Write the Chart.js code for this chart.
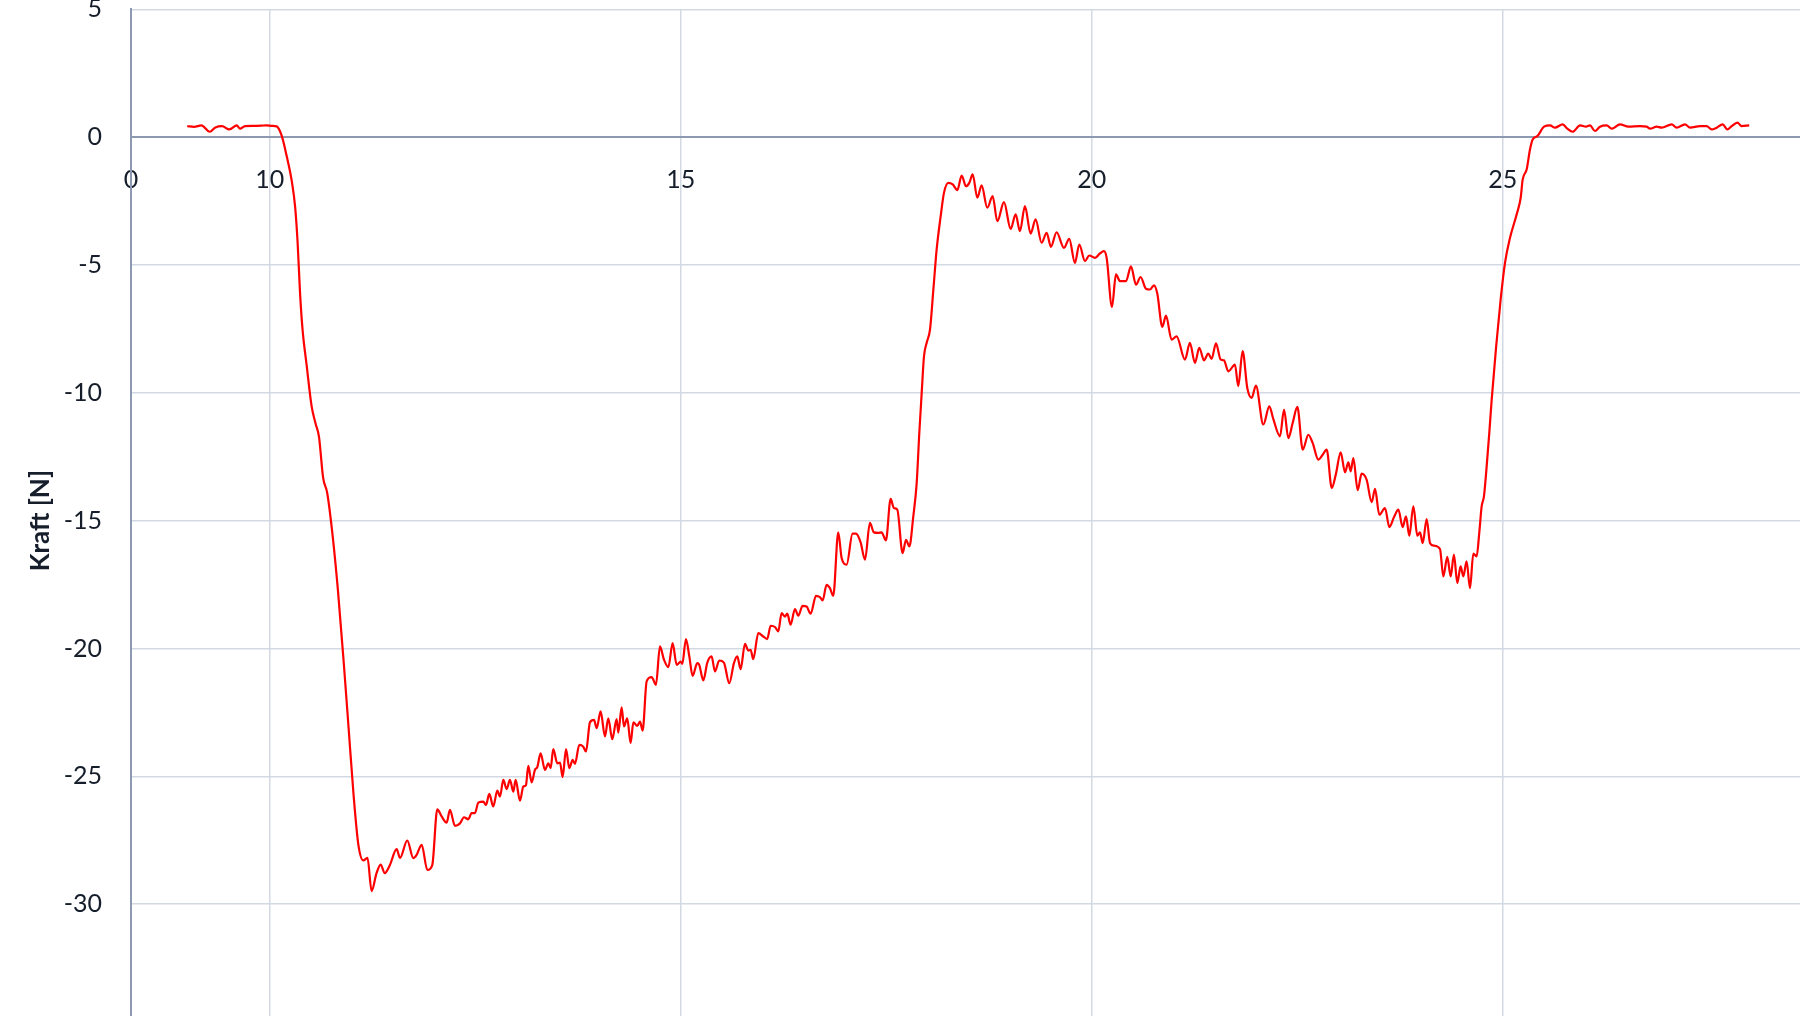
<!DOCTYPE html>
<html>
<head>
<meta charset="utf-8">
<script src="https://cdn.jsdelivr.net/npm/chart.js@4/dist/chart.umd.min.js"></script>
<style>
    html, body { margin: 0; padding: 0; background: #fff; overflow: hidden; }
    #wrap { position: absolute; left: 0; top: 0; width: 1920px; height: 1040px; }
</style>
</head>
<body>
<div id="wrap"><canvas id="kraft-chart"></canvas></div>
<script>
// Kraftverlauf - Messkurve (Excel-Look)

// x values of the measurement
const zeit = [
    8.997, 9.08, 9.17, 9.27, 9.34, 9.42, 9.51, 9.60, 9.64, 9.70, 9.80, 9.90, 9.96, 10.03, 10.085,
    10.146, 10.207, 10.27, 10.31, 10.34, 10.37, 10.40, 10.45, 10.51, 10.56, 10.60, 10.65, 10.70, 10.77, 10.83,
    10.90, 10.96, 11.02, 11.08, 11.14, 11.19, 11.24, 11.30, 11.35, 11.40, 11.46,
    11.545, 11.585, 11.674, 11.747, 11.788, 11.849, 11.918, 11.978, 12.039, 12.092, 12.153, 12.193, 12.254,
    12.315, 12.364, 12.416, 12.457, 12.497, 12.538, 12.599, 12.631, 12.672, 12.720, 12.769, 12.802, 12.842,
    12.883, 12.923, 12.964, 12.992, 13.045, 13.085, 13.118, 13.146, 13.187, 13.227, 13.256, 13.296, 13.349,
    13.390, 13.418, 13.450, 13.499, 13.532, 13.564, 13.605, 13.645, 13.686, 13.714, 13.767, 13.815, 13.848,
    13.896, 13.945, 13.978, 14.026, 14.079, 14.119, 14.168, 14.221, 14.241, 14.282, 14.310, 14.350, 14.391,
    14.424, 14.472, 14.505, 14.537, 14.586, 14.647, 14.699, 14.748, 14.797, 14.850, 14.902, 14.951, 15.000,
    15.02, 15.064, 15.105, 15.145, 15.202, 15.226, 15.275, 15.324, 15.376, 15.417, 15.469, 15.526, 15.591,
    15.648, 15.689, 15.729, 15.782, 15.822, 15.851, 15.883, 15.944, 16.005, 16.053, 16.094, 16.147, 16.187,
    16.228, 16.268, 16.297, 16.337, 16.390, 16.431, 16.483, 16.532, 16.581, 16.646, 16.694, 16.727, 16.775,
    16.816, 16.856, 16.917, 16.958, 17.019, 17.091, 17.132, 17.189, 17.242, 17.302, 17.351, 17.404, 17.444,
    17.497, 17.554, 17.594, 17.635,
    17.700, 17.741, 17.782, 17.830, 17.871, 17.903, 17.932, 17.960, 17.992, 18.033, 18.074, 18.114, 18.163,
    18.203, 18.256, 18.309, 18.366, 18.418, 18.471, 18.511, 18.552, 18.609, 18.661, 18.730, 18.795, 18.852,
    18.933, 19.014, 19.075, 19.127, 19.188, 19.257, 19.318, 19.391, 19.452, 19.504, 19.573, 19.663, 19.727,
    19.796, 19.849, 19.918, 19.971, 20.040, 20.100, 20.149, 20.182, 20.247, 20.295, 20.344, 20.417, 20.478,
    20.539, 20.595, 20.660, 20.709, 20.758, 20.798, 20.859, 20.904, 20.972, 21.033, 21.135, 21.195, 21.256,
    21.309, 21.366, 21.418, 21.459, 21.512, 21.569, 21.609, 21.662, 21.743, 21.783, 21.836, 21.893, 21.946,
    21.998, 22.088, 22.161, 22.209,
    22.291, 22.340, 22.392, 22.445, 22.502, 22.567, 22.636, 22.688, 22.757, 22.810, 22.859, 22.920, 22.972,
    23.029, 23.082, 23.122, 23.151, 23.183, 23.236, 23.284, 23.345, 23.406, 23.447, 23.499, 23.568, 23.621,
    23.678, 23.731, 23.783, 23.824, 23.864, 23.913, 23.962, 23.994, 24.027, 24.075, 24.116, 24.165,
    24.237, 24.278, 24.326, 24.367, 24.407, 24.448, 24.488, 24.521, 24.561, 24.602, 24.643, 24.683, 24.715,
    24.744, 24.772, 24.805, 24.837, 24.866, 24.92,
    24.975, 25.028, 25.089, 25.170, 25.219, 25.243, 25.292, 25.332, 25.365, 25.422, 25.503, 25.576, 25.636,
    25.730, 25.786, 25.851, 25.941, 26.013, 26.062, 26.123, 26.184, 26.265, 26.326, 26.427, 26.529, 26.670,
    26.752, 26.792, 26.873, 26.934, 27.056, 27.116, 27.218, 27.279, 27.400, 27.481, 27.542, 27.603, 27.676,
    27.733, 27.786, 27.855, 27.907, 27.999
];

// Kraft [N]
const kraft = [
    0.43, 0.40, 0.46, 0.21, 0.38, 0.43, 0.30, 0.46, 0.33, 0.43, 0.44, 0.45, 0.46, 0.44, 0.42,
    0.06, -0.74, -1.74, -2.74, -4.13, -6.13, -7.53, -8.93, -10.52, -11.22, -11.72, -13.32, -13.92, -15.71, -17.71,
    -20.51, -23.10, -25.70, -27.70, -28.29, -28.19, -29.49, -28.79, -28.45, -28.79, -28.49,
    -27.85, -28.19, -27.51, -28.20, -28.07, -27.68, -28.66, -28.47, -26.29, -26.57, -26.81, -26.31, -26.94,
    -26.84, -26.60, -26.68, -26.44, -26.44, -26.03, -25.99, -26.12, -25.69, -26.18, -25.56, -25.79, -25.14,
    -25.50, -25.14, -25.60, -25.14, -25.95, -25.40, -25.34, -24.59, -25.24, -24.75, -24.64, -24.10, -24.75,
    -24.49, -24.68, -23.94, -24.49, -24.46, -25.03, -23.94, -24.68, -24.36, -24.51, -23.77, -23.84, -24.03,
    -22.89, -22.79, -23.12, -22.46, -23.44, -22.73, -23.55, -22.76, -23.29, -22.30, -23.05, -22.73, -23.70,
    -22.89, -23.03, -22.86, -23.21, -21.29, -21.12, -21.42, -19.92, -20.44, -20.73, -19.79, -20.64, -20.51,
    -20.60, -19.63, -20.31, -21.07, -20.57, -20.64, -21.25, -20.55, -20.31, -20.90, -20.47, -20.55, -21.36,
    -20.57, -20.31, -20.81, -19.82, -20.08, -20.05, -20.42, -19.40, -19.53, -19.63, -19.11, -19.16, -19.33,
    -18.62, -18.75, -18.64, -19.07, -18.46, -18.72, -18.33, -18.36, -18.64, -17.94, -17.99, -18.12, -17.51,
    -17.64, -17.94, -15.46, -16.46, -16.72, -15.51, -15.51, -15.85, -16.53, -15.09, -15.46, -15.48, -15.46,
    -15.77, -14.15, -14.51, -14.57,
    -16.27, -15.75, -16.01, -14.83, -13.53, -11.57, -10.00, -8.57, -8.05, -7.53, -5.96, -4.39, -3.09,
    -2.18, -1.79, -1.85, -2.07, -1.50, -1.92, -1.79, -1.46, -2.37, -1.89, -2.76, -2.31, -3.29,
    -2.54, -3.59, -3.02, -3.68, -2.70, -3.77, -3.22, -4.13, -3.74, -4.29, -3.72, -4.33, -3.98,
    -4.92, -4.20, -4.85, -4.63, -4.72, -4.55, -4.46, -4.72, -6.64, -5.37, -5.63, -5.63, -5.05,
    -5.77, -5.47, -5.93, -5.96, -5.80, -6.12, -7.42, -6.98, -7.92, -7.79, -8.70, -8.05, -8.83,
    -8.24, -8.73, -8.47, -8.67, -8.07, -8.70, -8.73, -9.16, -8.90, -9.74, -8.37, -9.81, -10.20,
    -9.72, -11.24, -10.53, -11.02,
    -11.70, -10.66, -11.77, -11.18, -10.55, -12.22, -11.64, -11.96, -12.61, -12.42, -12.22, -13.72, -13.16,
    -12.33, -13.11, -12.72, -13.07, -12.55, -13.81, -13.16, -13.40, -14.28, -13.76, -14.77, -14.51, -15.25,
    -14.86, -14.57, -15.25, -14.83, -15.59, -14.44, -15.59, -15.46, -15.88, -14.94, -15.88, -15.98,
    -16.11, -17.18, -16.42, -17.18, -16.33, -17.44, -16.79, -17.18, -16.59, -17.64, -16.29, -16.40, -15.48,
    -14.44, -14.05, -12.88, -11.57, -10.27, -8.20,
    -6.35, -4.92, -3.94, -3.02, -2.37, -1.66, -1.26, -0.48, -0.09, 0.04, 0.41, 0.46, 0.37,
    0.50, 0.33, 0.21, 0.46, 0.41, 0.46, 0.24, 0.41, 0.46, 0.33, 0.50, 0.41, 0.43,
    0.41, 0.33, 0.41, 0.37, 0.50, 0.37, 0.50, 0.37, 0.43, 0.43, 0.30, 0.37, 0.50,
    0.30, 0.43, 0.57, 0.43, 0.46
];

// axis ticks (the first x tick sits on the axis minimum and is shown as "0")
const xTicks = [8.313, 10, 15, 20, 25, 30];
const yTicks = [5, 0, -5, -10, -15, -20, -25, -30, -35];

const gridColor = '#d3d9e3';
const axisColor = '#8d99b0';
const textColor = '#161e2b';

const points = zeit.map((t, i) => ({ x: t, y: kraft[i] }));

new Chart(document.getElementById('kraft-chart'), {
    type: 'line',
    data: {
        datasets: [{
            data: points,
            borderColor: '#ff0000',
            borderWidth: 2.2,
            pointRadius: 0,
            cubicInterpolationMode: 'monotone',
            fill: false
        }]
    },
    options: {
        responsive: true,
        maintainAspectRatio: false,
        animation: false,
        layout: { padding: { top: 9.3, right: 6.3, bottom: 8, left: 0 } },
        plugins: {
            legend: { display: false },
            tooltip: { enabled: false }
        },
        scales: {
            x: {
                type: 'linear',
                position: { y: 0 },
                min: xTicks[0],
                max: xTicks[xTicks.length - 1],
                afterBuildTicks: scale => {
                    scale.ticks = xTicks.map(v => ({ value: v }));
                },
                afterFit: scale => {
                    scale.paddingLeft = 0;
                    scale.paddingRight = 0;
                },
                grid: { color: gridColor, lineWidth: 1.5, drawTicks: false },
                border: { color: axisColor, width: 2 },
                ticks: {
                    autoSkip: false,
                    maxRotation: 0,
                    padding: 28,
                    color: textColor,
                    font: { family: 'Lato', size: 25 },
                    callback: (value, index) => index === 0 ? '0' : value
                }
            },
            y: {
                type: 'linear',
                min: yTicks[yTicks.length - 1],
                max: yTicks[0],
                afterBuildTicks: scale => {
                    scale.ticks = yTicks.map(v => ({ value: v }));
                },
                afterFit: scale => {
                    scale.width = 131;
                    scale.paddingTop = 0;
                    scale.paddingBottom = 0;
                },
                grid: { color: gridColor, lineWidth: 1.5, drawTicks: false },
                border: { color: axisColor, width: 2 },
                ticks: {
                    padding: 29,
                    color: textColor,
                    font: { family: 'Lato', size: 25 }
                },
                title: {
                    display: true,
                    text: 'Kraft [N]',
                    color: textColor,
                    font: { family: 'Lato', size: 26, weight: 'bold' },
                    padding: { top: 25, bottom: 0 }
                }
            }
        }
    }
});
</script>
</body>
</html>
